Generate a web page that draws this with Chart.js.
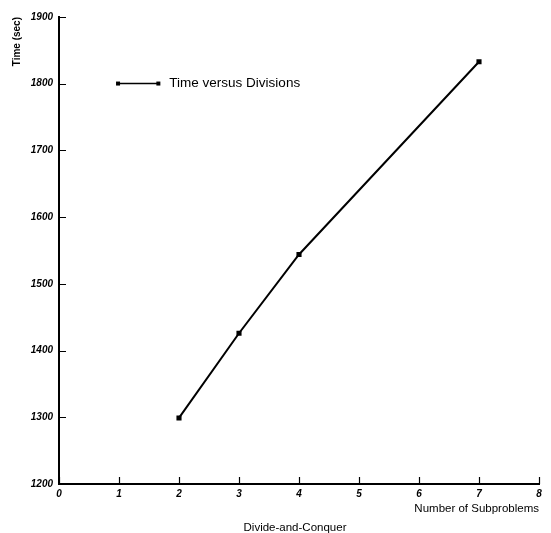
<!DOCTYPE html>
<html>
<head>
<meta charset="utf-8">
<script src="https://cdn.jsdelivr.net/npm/chart.js@4.4.0/dist/chart.umd.min.js"></script>
<style>
  html, body { margin: 0; padding: 0; background: #fff; }
  #wrap { width: 551px; height: 533px; }
</style>
</head>
<body>
<div id="wrap"><canvas id="c" width="551" height="533"></canvas></div>
<script>
const subproblems = [2, 3, 4, 7];
const timeSec = [1299, 1426, 1544, 1833];
const seriesLabel = 'Time versus Divisions';
const xTicks = [0, 1, 2, 3, 4, 5, 6, 7, 8];
const yTicks = [1200, 1300, 1400, 1500, 1600, 1700, 1800, 1900];
const xTitle = 'Number of Subproblems';
const yTitle = 'Time (sec)';
const chartTitle = 'Divide-and-Conquer';

const FONT = '"Liberation Sans", Arial, Helvetica, sans-serif';

const inwardTicks = {
  id: 'inwardTicks',
  afterDraw(chart) {
    const ctx = chart.ctx;
    const xs = chart.scales.x, ys = chart.scales.y;
    const area = chart.chartArea;
    ctx.save();
    ctx.strokeStyle = '#000';
    ctx.lineWidth = 1.2;
    ctx.beginPath();
    xTicks.forEach(v => {
      const px = Math.round(xs.getPixelForValue(v)) + 0.5;
      ctx.moveTo(px, area.bottom);
      ctx.lineTo(px, area.bottom - 7);
    });
    yTicks.forEach(v => {
      const py = Math.round(ys.getPixelForValue(v)) + 0.5;
      ctx.moveTo(area.left, py);
      ctx.lineTo(area.left + 7, py);
    });
    ctx.stroke();
    ctx.restore();
  }
};

const customLegend = {
  id: 'customLegend',
  afterDraw(chart) {
    const ctx = chart.ctx;
    const area = chart.chartArea;
    const w = area.right - area.left, h = area.bottom - area.top;
    const x0 = area.left + w * 0.123;
    const x1 = area.left + w * 0.207;
    const y = area.top + h * 0.1425;
    ctx.save();
    ctx.strokeStyle = '#000';
    ctx.fillStyle = '#000';
    ctx.lineWidth = 1.5;
    ctx.beginPath();
    ctx.moveTo(x0, y);
    ctx.lineTo(x1, y);
    ctx.stroke();
    ctx.fillRect(x0 - 2, y - 2, 4, 4);
    ctx.fillRect(x1 - 2, y - 2, 4, 4);
    ctx.font = '13.5px ' + FONT;
    ctx.textBaseline = 'middle';
    ctx.textAlign = 'left';
    ctx.fillText(chart.data.datasets[0].label, x1 + 11, y);
    ctx.restore();
  }
};

const bottomTitle = {
  id: 'bottomTitle',
  afterDraw(chart) {
    const ctx = chart.ctx;
    const area = chart.chartArea;
    ctx.save();
    ctx.fillStyle = '#000';
    ctx.font = '11.5px ' + FONT;
    ctx.textAlign = 'center';
    ctx.textBaseline = 'middle';
    ctx.fillText(chartTitle, (area.left + area.right) / 2 - 4, chart.height - 5);
    ctx.restore();
  }
};

new Chart(document.getElementById('c'), {
  type: 'line',
  data: {
    datasets: [{
      label: seriesLabel,
      data: subproblems.map((x, i) => ({ x: x, y: timeSec[i] })),
      borderColor: '#000',
      backgroundColor: '#000',
      borderWidth: 2,
      pointStyle: 'rect',
      pointRadius: 2.2,
      pointHoverRadius: 2.2,
      tension: 0,
      fill: false
    }]
  },
  options: {
    responsive: false,
    animation: false,
    devicePixelRatio: 1,
    layout: { padding: { top: 17, right: 12, bottom: 0, left: 0 } },
    plugins: {
      legend: { display: false },
      tooltip: { enabled: false },
      title: { display: false }
    },
    scales: {
      x: {
        type: 'linear',
        min: 0, max: 8,
        afterBuildTicks(s) { s.ticks = xTicks.map(v => ({ value: v })); },
        afterFit(s) { s.height = 49; },
        grid: { drawOnChartArea: false, drawTicks: false },
        border: { display: true, color: '#000', width: 2 },
        ticks: {
          color: '#000',
          padding: 4,
          maxRotation: 0,
          callback: v => String(v),
          font: { family: FONT, size: 10, weight: 'bold', style: 'italic' }
        },
        title: {
          display: true,
          text: xTitle,
          align: 'end',
          color: '#000',
          padding: { top: 0, bottom: 17 },
          font: { family: FONT, size: 11.5, weight: 'normal' }
        }
      },
      y: {
        type: 'linear',
        min: 1200, max: 1900,
        afterBuildTicks(s) { s.ticks = yTicks.map(v => ({ value: v })); },
        afterFit(s) { s.width = 59; },
        grid: { drawOnChartArea: false, drawTicks: false },
        border: { display: true, color: '#000', width: 2 },
        ticks: {
          color: '#000',
          padding: 6,
          callback: v => String(v),
          font: { family: FONT, size: 10, weight: 'bold', style: 'italic' }
        },
        title: {
          display: true,
          text: yTitle,
          align: 'end',
          color: '#000',
          padding: { top: 11, bottom: 0 },
          font: { family: FONT, size: 10, weight: 'bold' }
        }
      }
    }
  },
  plugins: [inwardTicks, customLegend, bottomTitle]
});
</script>
</body>
</html>
